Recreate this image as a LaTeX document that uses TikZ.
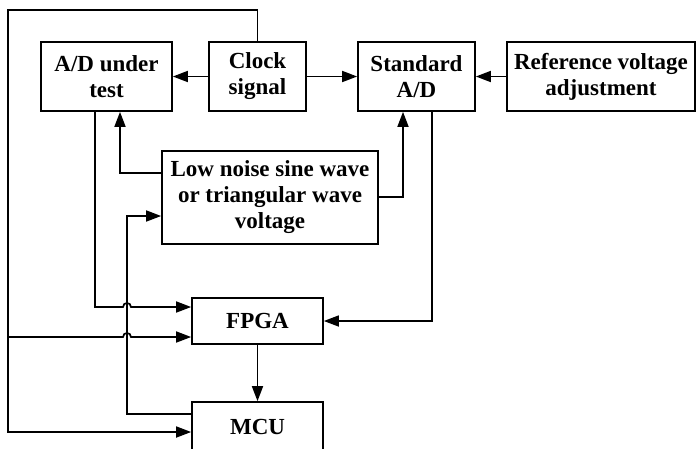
\documentclass[tikz,border=0pt]{standalone}
\usepackage{fontspec}
\setmainfont{Liberation Serif}
\usetikzlibrary{arrows.meta,calc}
\begin{document}
\begin{tikzpicture}[x=1pt,y=-1pt,
  box/.style={draw,line width=1.7pt,inner sep=0pt,align=center,font=\bfseries\fontsize{23}{26}\selectfont},
  wire/.style={line width=1.7pt},
  arr/.style={wire,-{Triangle[length=15pt,width=11pt]}}]
\useasboundingbox (0,0) rectangle (696,448);
\node[box,minimum width=131pt,minimum height=69pt] (adt) at (106.5,76.5) {A/D under\\test};
\node[box,minimum width=97pt,minimum height=69pt] (clk) at (257.5,76.5) {Clock\\signal};
\node[box,minimum width=117pt,minimum height=69pt] (std) at (416.5,76.5) {Standard\\A/D};
\node[box,minimum width=188pt,minimum height=69pt] (ref) at (601,76.5) {Reference voltage\\adjustment};
\node[box,minimum width=216pt,minimum height=93pt] (low) at (270,197.5) {Low noise sine wave\\or triangular wave\\voltage};
\node[box,minimum width=131pt,minimum height=46pt] (fpga) at (257.5,321) {FPGA};
\node[box,minimum width=131pt,minimum height=50pt] (mcu) at (257.5,427) {MCU};

\coordinate (p1) at (120,173);
\coordinate (p2) at (403,197);
\coordinate (p3) at (95,307);
\coordinate (j1) at (127,307);
\coordinate (p4) at (432,321);
\coordinate (p5) at (127,414);
\coordinate (p6) at (127,216);
\coordinate (q2) at (8,10);
\coordinate (q3) at (8,432);
\coordinate (q4) at (8,337);
\coordinate (j2) at (127,337);

\draw[arr] (clk.west) -- (adt.east);
\draw[arr] (clk.east) -- (std.west);
\draw[arr] (ref.west) -- (std.east);
\draw[arr] (low.west |- p1) -| (adt.south -| p1);
\draw[arr] (low.east |- p2) -| (std.south -| p2);
\draw[arr] (adt.south -| p3) -- (p3) -- ([xshift=-4pt]j1)
  .. controls ([xshift=-4pt,yshift=5.3pt]j1) and ([xshift=4pt,yshift=5.3pt]j1) .. ([xshift=4pt]j1)
  -- (fpga.west |- p3);
\draw[arr] (std.south -| p4) -- (p4) -- (fpga.east);
\draw[arr] (fpga.south) -- (mcu.north);
\draw[arr] (mcu.west |- p5) -- (p5) -- (p6) -- (low.west |- p6);
\draw[arr] (clk.north) -- (clk.north |- q2) -- (q2) -- (q3) -- (mcu.west |- q3);
\draw[arr] (q4) -- ([xshift=-4pt]j2)
  .. controls ([xshift=-4pt,yshift=5.3pt]j2) and ([xshift=4pt,yshift=5.3pt]j2) .. ([xshift=4pt]j2)
  -- (fpga.west |- q4);
\end{tikzpicture}
\end{document}
